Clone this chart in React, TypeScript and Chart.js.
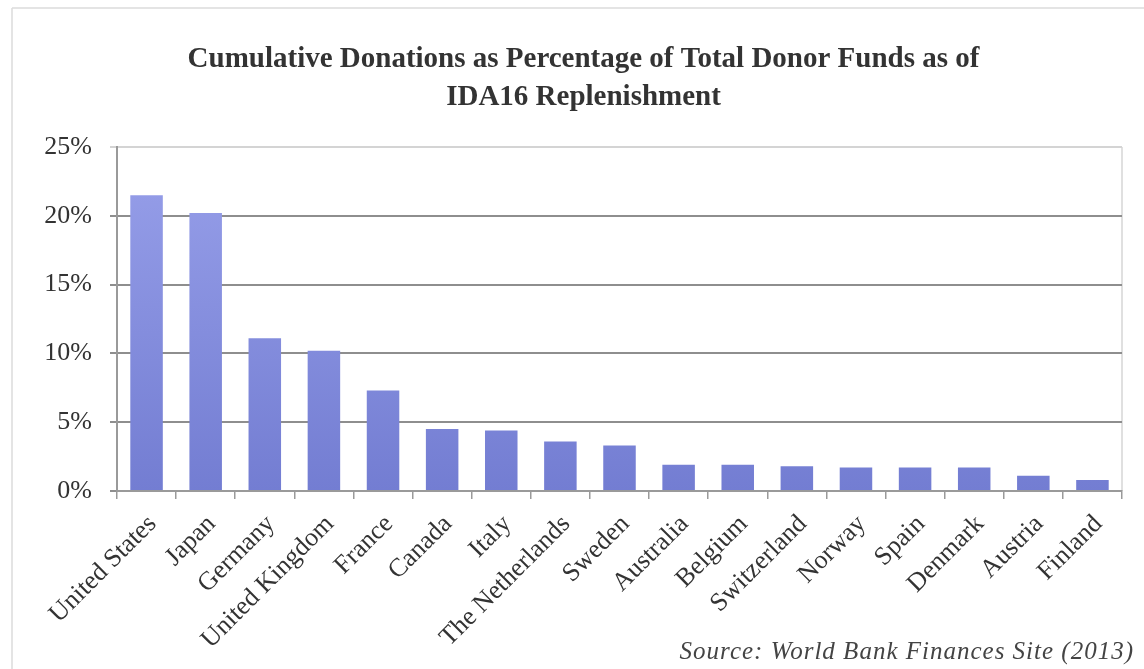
import React, { useEffect, useRef } from "react";
import { Chart, registerables } from "chart.js";

Chart.register(...registerables);

const categories = [
  "United States",
  "Japan",
  "Germany",
  "United Kingdom",
  "France",
  "Canada",
  "Italy",
  "The Netherlands",
  "Sweden",
  "Australia",
  "Belgium",
  "Switzerland",
  "Norway",
  "Spain",
  "Denmark",
  "Austria",
  "Finland",
];

const shares = [21.5, 20.2, 11.1, 10.2, 7.3, 4.5, 4.4, 3.6, 3.3, 1.9, 1.9, 1.8, 1.7, 1.7, 1.7, 1.1, 0.8];

const yTicks = [0, 5, 10, 15, 20, 25];

const titleLines = [
  "Cumulative Donations as Percentage of Total Donor Funds as of",
  "IDA16 Replenishment",
];

const sourceNote = "Source: World Bank Finances Site (2013)";

const SERIF = "'Liberation Serif', 'Times New Roman', 'DejaVu Serif', serif";

const framePlugin = {
  id: "frame",
  beforeDraw(chart: any) {
    const { ctx, chartArea } = chart;
    ctx.save();
    ctx.fillStyle = "#ffffff";
    ctx.fillRect(0, 0, chart.width, chart.height);
    ctx.strokeStyle = "#dcdcdc";
    ctx.lineWidth = 1.5;
    ctx.beginPath();
    ctx.moveTo(12, 8);
    ctx.lineTo(chart.width, 8);
    ctx.moveTo(12, 8);
    ctx.lineTo(12, chart.height);
    ctx.stroke();
    ctx.strokeStyle = "#d6d6d6";
    ctx.lineWidth = 1.5;
    ctx.beginPath();
    ctx.moveTo(chartArea.right, chartArea.top);
    ctx.lineTo(chartArea.right, chartArea.bottom);
    ctx.stroke();
    ctx.restore();
  },
  afterDraw(chart: any) {
    const { ctx } = chart;
    ctx.save();
    ctx.font = `italic 25px ${SERIF}`;
    try {
      (ctx as any).letterSpacing = "1px";
    } catch (e) {}
    ctx.fillStyle = "#444444";
    ctx.textAlign = "right";
    ctx.textBaseline = "middle";
    ctx.fillText(sourceNote, chart.width - 10, 652);
    ctx.restore();
  },
};

export default function App() {
  const ref = useRef<HTMLCanvasElement>(null);

  useEffect(() => {
    document.body.style.margin = "0";
    const chart = new Chart(ref.current as HTMLCanvasElement, {
      type: "bar",
      data: {
        labels: categories,
        datasets: [
          {
            data: shares,
            backgroundColor: (c: any) => {
              const area = c.chart.chartArea;
              if (!area) return "#838ddc";
              const g = c.chart.ctx.createLinearGradient(0, area.top, 0, area.bottom);
              g.addColorStop(0, "#98a0ea");
              g.addColorStop(1, "#737dd2");
              return g;
            },
            barPercentage: 0.55,
            categoryPercentage: 1,
          },
        ],
      },
      options: {
        responsive: false,
        animation: false,
        layout: { padding: { left: 45, right: 22, top: 0, bottom: 0 } },
        plugins: {
          legend: { display: false },
          tooltip: { enabled: false },
          title: {
            display: true,
            text: titleLines,
            color: "#333333",
            font: { family: SERIF, size: 29, weight: "bold", lineHeight: 1.3 },
            padding: { top: 41, bottom: 30.6 },
          },
        },
        scales: {
          x: {
            grid: {
              offset: true,
              drawOnChartArea: false,
              tickLength: 8,
              color: "#9a9a9a",
              lineWidth: 1.5,
            },
            border: { color: "#9a9a9a", width: 2 },
            ticks: {
              minRotation: 45,
              maxRotation: 45,
              autoSkip: false,
              color: "#333333",
              padding: 10,
              labelOffset: 6,
              font: { family: SERIF, size: 26 },
            },
            afterFit: (s: any) => {
              s.height = 178;
            },
          },
          y: {
            min: 0,
            max: 25,
            afterBuildTicks: (s: any) => {
              s.ticks = yTicks.map((v) => ({ value: v }));
            },
            ticks: {
              color: "#333333",
              padding: 18,
              font: { family: SERIF, size: 26 },
              callback: (v: any) => v + "%",
            },
            grid: {
              color: (c: any) => (c.tick && c.tick.value === 25 ? "#d4d4d4" : "#8e8e8e"),
              lineWidth: 2,
              tickLength: 7,
            },
            border: { color: "#9a9a9a", width: 2 },
            afterFit: (s: any) => {
              s.width = 72;
            },
          },
        },
      } as any,
      plugins: [framePlugin],
    });
    return () => chart.destroy();
  }, []);

  return <canvas ref={ref} width={1144} height={669} style={{ display: "block" }} />;
}
